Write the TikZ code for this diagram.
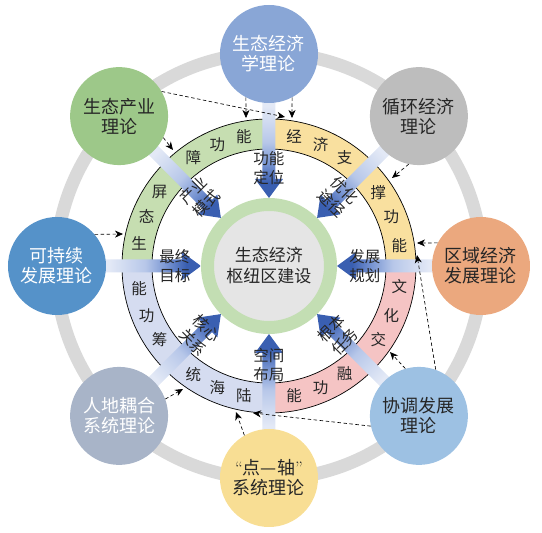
\documentclass[tikz,border=0pt]{standalone}
\usepackage{fontspec}
\newfontfamily\cjk{Noto Sans CJK SC}
\usetikzlibrary{arrows.meta}

\definecolor{ringgray}{HTML}{D9D9D9}
\definecolor{secgreen}{HTML}{C6DEB1}
\definecolor{secyellow}{HTML}{F9E09F}
\definecolor{secpink}{HTML}{F5C4C4}
\definecolor{seclav}{HTML}{D5DCF0}
\definecolor{hubgreen}{HTML}{C3DEB3}
\definecolor{hubgray}{HTML}{E5E5E5}
\definecolor{tblue}{HTML}{89A6D6}
\definecolor{tgreen}{HTML}{9DC889}
\definecolor{tgray}{HTML}{BDBDBD}
\definecolor{torange}{HTML}{EBA87E}
\definecolor{tlightblue}{HTML}{9DC1E3}
\definecolor{tyellow}{HTML}{F8DE94}
\definecolor{tslate}{HTML}{A8B4C8}
\definecolor{tdeepblue}{HTML}{5592C9}
\definecolor{adark}{HTML}{3A5FB1}
\definecolor{amid}{HTML}{7794D2}
\definecolor{alight}{HTML}{B7C7E9}
\definecolor{apale}{HTML}{E3E9F6}

\pgfdeclarehorizontalshading{bigarrowshade}{100bp}{color(0bp)=(adark); color(32bp)=(adark); color(41bp)=(amid); color(51bp)=(alight); color(68bp)=(apale); color(100bp)=(apale)}

\begin{document}
\begin{tikzpicture}[x=1pt, y=1pt]
    \def\ri{117}
    \def\ro{147}
    \def\rc{132}
    \def\rt{212}

    \tikzset{
        theory/.style={circle, inner sep=0pt, minimum size=98pt, align=center,
            font=\cjk\fontsize{18pt}{20pt}\selectfont, text=black!85},
        ringchar/.style={inner sep=0pt, font=\cjk\fontsize{15.5pt}{15.5pt}\selectfont, text=black!85},
        arrowlabel/.style={inner sep=0pt, align=center,
            font=\cjk\fontsize{15.5pt}{18.5pt}\selectfont, text=black!85},
        bigarrow/.style={shading=bigarrowshade},
        hint/.style={black, line width=0.65pt, dash pattern=on 3.5pt off 2.5pt,
            -{Stealth[length=8pt, width=7pt, inset=2.5pt]}}
    }

    \useasboundingbox (-269,-267) rectangle (273,266);

    % outer gray ring
    \draw[ringgray, line width=13pt] (0,0) circle[radius=213];

    % function ring
    \fill[secgreen]  (180:\ri) arc[start angle=180, end angle=90, radius=\ri] -- (90:\ro) arc[start angle=90, end angle=180, radius=\ro] -- cycle;
    \fill[secyellow] (90:\ri) arc[start angle=90, end angle=0, radius=\ri] -- (0:\ro) arc[start angle=0, end angle=90, radius=\ro] -- cycle;
    \fill[secpink]   (0:\ri) arc[start angle=0, end angle=-90, radius=\ri] -- (-90:\ro) arc[start angle=-90, end angle=0, radius=\ro] -- cycle;
    \fill[seclav]    (-90:\ri) arc[start angle=-90, end angle=-180, radius=\ri] -- (-180:\ro) arc[start angle=-180, end angle=-90, radius=\ro] -- cycle;
    \draw[black, line width=0.7pt] (0,0) circle[radius=\ri];
    \draw[black, line width=0.7pt] (0,0) circle[radius=\ro];

    % hub
    \node[circle, inner sep=0pt, minimum size=123pt, draw=hubgreen, line width=13pt, fill=hubgray,
        align=center, font=\cjk\fontsize{17pt}{21pt}\selectfont, text=black!85] (hub) at (0,0) {生态经济\\枢纽区建设};

    % big arrows
    \begin{scope}[transform canvas={rotate=90}]
        \shade[bigarrow] (175,-6.5) -- (87,-6.5) -- (87,-14) -- (68,0) -- (87,14) -- (87,6.5) -- (175,6.5) -- cycle;
    \end{scope}
    \begin{scope}[transform canvas={rotate=45}]
        \shade[bigarrow] (175,-6.5) -- (87,-6.5) -- (87,-14) -- (68,0) -- (87,14) -- (87,6.5) -- (175,6.5) -- cycle;
    \end{scope}
    \begin{scope}[transform canvas={rotate=0}]
        \shade[bigarrow] (175,-6.5) -- (87,-6.5) -- (87,-14) -- (68,0) -- (87,14) -- (87,6.5) -- (175,6.5) -- cycle;
    \end{scope}
    \begin{scope}[transform canvas={rotate=-45}]
        \shade[bigarrow] (175,-6.5) -- (87,-6.5) -- (87,-14) -- (68,0) -- (87,14) -- (87,6.5) -- (175,6.5) -- cycle;
    \end{scope}
    \begin{scope}[transform canvas={rotate=-90}]
        \shade[bigarrow] (175,-6.5) -- (87,-6.5) -- (87,-14) -- (68,0) -- (87,14) -- (87,6.5) -- (175,6.5) -- cycle;
    \end{scope}
    \begin{scope}[transform canvas={rotate=-135}]
        \shade[bigarrow] (175,-6.5) -- (87,-6.5) -- (87,-14) -- (68,0) -- (87,14) -- (87,6.5) -- (175,6.5) -- cycle;
    \end{scope}
    \begin{scope}[transform canvas={rotate=180}]
        \shade[bigarrow] (175,-6.5) -- (87,-6.5) -- (87,-14) -- (68,0) -- (87,14) -- (87,6.5) -- (175,6.5) -- cycle;
    \end{scope}
    \begin{scope}[transform canvas={rotate=135}]
        \shade[bigarrow] (175,-6.5) -- (87,-6.5) -- (87,-14) -- (68,0) -- (87,14) -- (87,6.5) -- (175,6.5) -- cycle;
    \end{scope}

    % arrow labels
    \node[arrowlabel]             (lblpos)   at (90:98)   {功能\\定位};
    \node[arrowlabel, rotate=-45] (lblpath)  at (45:98)   {优化\\途径};
    \node[arrowlabel]             (lblplan)  at (0:96)    {发展\\规划};
    \node[arrowlabel, rotate=45]  (lbltask)  at (-45:98)  {根本\\任务};
    \node[arrowlabel]             (lbllay)   at (-90:99)  {空间\\布局};
    \node[arrowlabel, rotate=-45] (lblrel)   at (-135:98) {核心\\关系};
    \node[arrowlabel]             (lblgoal)  at (180:94)  {最终\\目标};
    \node[arrowlabel, rotate=45]  (lblmode)  at (135:98)  {产业\\模式};

    % ring characters, green
    \node[ringchar] (g1) at (170:\rc) {生};
    \node[ringchar] (g2) at (158:\rc) {态};
    \node[ringchar] (g3) at (146:\rc) {屏};
    \node[ringchar] (g4) at (125:\rc) {障};
    \node[ringchar] (g5) at (113:\rc) {功};
    \node[ringchar] (g6) at (101:\rc) {能};
    % yellow
    \node[ringchar] (y1) at (79:\rc) {经};
    \node[ringchar] (y2) at (67:\rc) {济};
    \node[ringchar] (y3) at (55:\rc) {支};
    \node[ringchar] (y4) at (34:\rc) {撑};
    \node[ringchar] (y5) at (22:\rc) {功};
    \node[ringchar] (y6) at (9:\rc)  {能};
    % pink
    \node[ringchar] (p1) at (-9:\rc)  {文};
    \node[ringchar] (p2) at (-22:\rc) {化};
    \node[ringchar] (p3) at (-34:\rc) {交};
    \node[ringchar] (p4) at (-55:\rc) {融};
    \node[ringchar] (p5) at (-67:\rc) {功};
    \node[ringchar] (p6) at (-79:\rc) {能};
    % lavender
    \node[ringchar] (l1) at (-101:\rc) {陆};
    \node[ringchar] (l2) at (-113:\rc) {海};
    \node[ringchar] (l3) at (-125:\rc) {统};
    \node[ringchar] (l4) at (-146:\rc) {筹};
    \node[ringchar] (l5) at (-158:\rc) {功};
    \node[ringchar] (l6) at (-170:\rc) {能};

    % theories
    \node[theory, fill=tblue, text=white]      (ecoecon)   at (90:\rt)   {生态经济\\学理论};
    \node[theory, fill=tgray]                  (circular)  at (45:\rt)   {循环经济\\理论};
    \node[theory, fill=torange]                (regional)  at (0:\rt)    {区域经济\\发展理论};
    \node[theory, fill=tlightblue]             (coord)     at (-45:\rt)  {协调发展\\理论};
    \node[theory, fill=tyellow]                (pointaxis) at (-90:\rt)  {{\rmfamily “}点—轴{\rmfamily ”}\\系统理论};
    \node[theory, fill=tslate, text=white]     (humanland) at (-135:\rt) {人地耦合\\系统理论};
    \node[theory, fill=tdeepblue, text=white]  (sustain)   at (180:\rt)  {可持续\\发展理论};
    \node[theory, fill=tgreen]                 (ecoind)    at (135:\rt)  {生态产业\\理论};

    % dashed links onto the ring
    \coordinate (e1)  at (16,149);
    \coordinate (e2)  at (-23,148);
    \coordinate (e3)  at (23,148);
    \coordinate (e4)  at (-96,116);
    \coordinate (e5)  at (-146,32);
    \coordinate (e6)  at (123,88);
    \coordinate (e7)  at (148,23);
    \coordinate (e8)  at (148,11);
    \coordinate (e9)  at (121,-86);
    \coordinate (e10) at (-16,-147);
    \coordinate (e11) at (-33,-146);
    \coordinate (e12) at (-86,-123);

    \draw[hint] (ecoind.30)     -- (e1);
    \draw[hint] (ecoecon.-118)  -- (e2);
    \draw[hint] (ecoecon.-62)   -- (e3);
    \draw[hint] (ecoind.-26)    -- (e4);
    \draw[hint] (sustain.40)    -- (e5);
    \draw[hint] (circular.-102) -- (e6);
    \draw[hint] (regional.152)  -- (e7);
    \draw[hint] (coord.70)      -- (e8);
    \draw[hint] (coord.106)     -- (e9);
    \draw[hint] (coord.192)     -- (e10);
    \draw[hint] (pointaxis.120) -- (e11);
    \draw[hint] (humanland.20)  -- (e12);
\end{tikzpicture}
\end{document}
